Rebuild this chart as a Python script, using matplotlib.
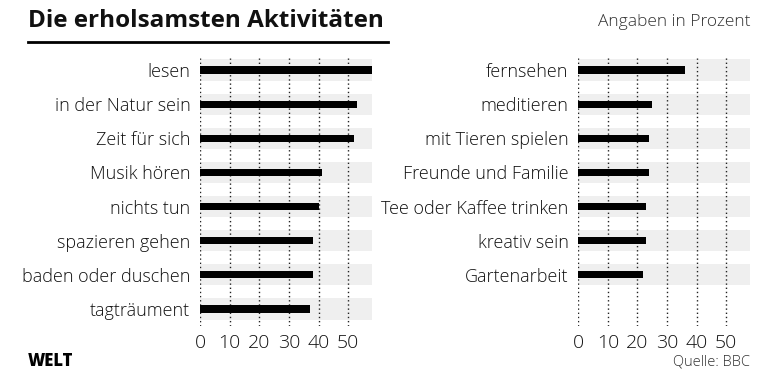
import matplotlib.pyplot as plt
import numpy as np

plt.rcParams['font.family'] = ['Open Sans', 'DejaVu Sans']

left_labels = ["lesen", "in der Natur sein", "Zeit für sich", "Musik hören",
               "nichts tun", "spazieren gehen", "baden oder duschen", "tagträument"]
left_values = [58, 53, 52, 41, 40, 38, 38, 37]

right_labels = ["fernsehen", "meditieren", "mit Tieren spielen", "Freunde und Familie",
                "Tee oder Kaffee trinken", "kreativ sein", "Gartenarbeit"]
right_values = [36, 25, 24, 24, 23, 23, 22]

ticks = [0, 10, 20, 30, 40, 50]
XMAX = 58
NROWS = 8
TXT = "#111111"

fig = plt.figure(figsize=(7.8, 3.73), dpi=100)


def panel(rect, labels, values):
    ax = fig.add_axes(rect)
    y = np.arange(len(labels))
    ax.barh(y, XMAX, height=0.62, color="#efefef", zorder=0.2)
    ax.barh(y, values, height=0.21, color="black", zorder=2)
    ax.set_xlim(0, XMAX)
    ax.set_ylim(NROWS - 0.5, -0.35)
    ax.set_xticks(ticks)
    ax.set_xticklabels([str(t) for t in ticks], fontsize=14, fontweight="light", color=TXT)
    ax.set_yticks(y)
    ax.set_yticklabels(labels, fontsize=13, fontweight="light", color=TXT)
    ax.tick_params(length=0, pad=7)
    ax.tick_params(axis="x", pad=6)
    ax.set_axisbelow(True)
    ax.xaxis.grid(True, linestyle=(0, (1, 2)), color="#222222", linewidth=1)
    for s in ax.spines.values():
        s.set_visible(False)
    return ax


panel([0.2564, 0.126, 0.2205, 0.7185], left_labels, left_values)
panel([0.7414, 0.126, 0.2201, 0.7185], right_labels, right_values)

fig.text(0.036, 0.945, "Die erholsamsten Aktivitäten", fontsize=17.5, fontweight="bold",
         ha="left", va="center", color=TXT)
fig.add_artist(plt.Line2D([0.036, 0.497], [0.888, 0.888], color="black", linewidth=2))
fig.text(0.962, 0.94, "Angaben in Prozent", fontsize=12.5, fontweight="light",
         ha="right", va="center", color="#333333")
fig.text(0.036, 0.03, "WELT", fontsize=12, fontweight="heavy", ha="left", va="center")
fig.text(0.962, 0.03, "Quelle: BBC", fontsize=10.5, fontweight="light",
         ha="right", va="center", color="#333333")

fig.savefig("out.png", dpi=100)
